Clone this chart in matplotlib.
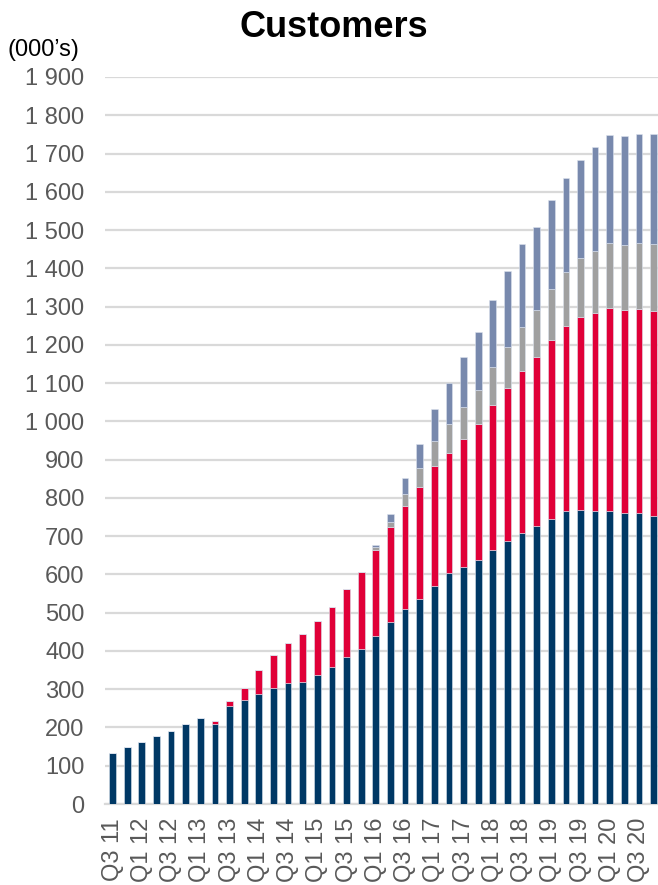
import numpy as np
import matplotlib
matplotlib.use("Agg")
import matplotlib.pyplot as plt
from matplotlib.ticker import FuncFormatter

plt.rcParams['font.family'] = ['Liberation Sans', 'DejaVu Sans']

# quarters Q3 11 .. Q4 20
quarters = ["Q3 11", "Q4 11",
            "Q1 12", "Q2 12", "Q3 12", "Q4 12",
            "Q1 13", "Q2 13", "Q3 13", "Q4 13",
            "Q1 14", "Q2 14", "Q3 14", "Q4 14",
            "Q1 15", "Q2 15", "Q3 15", "Q4 15",
            "Q1 16", "Q2 16", "Q3 16", "Q4 16",
            "Q1 17", "Q2 17", "Q3 17", "Q4 17",
            "Q1 18", "Q2 18", "Q3 18", "Q4 18",
            "Q1 19", "Q2 19", "Q3 19", "Q4 19",
            "Q1 20", "Q2 20", "Q3 20", "Q4 20"]

# customers (000's) per segment
seg_navy = [134, 149, 163, 178, 191, 209, 225, 209, 255, 273,
            287, 302, 315, 320, 336, 359, 383, 406, 440, 477,
            509, 535, 571, 603, 620, 639, 665, 688, 709, 726,
            746, 765, 769, 765, 766, 760, 760, 754]
seg_red = [0, 0, 0, 0, 0, 0, 0, 9, 14, 29,
           64, 88, 106, 125, 142, 157, 180, 200, 225, 248,
           271, 294, 313, 315, 334, 354, 378, 400, 423, 442,
           467, 485, 504, 519, 531, 532, 534, 535]
seg_grey = [0, 0, 0, 0, 0, 0, 0, 0, 0, 0,
            0, 0, 0, 0, 0, 0, 0, 0, 6, 12,
            30, 49, 65, 75, 83, 90, 98, 106, 115, 124,
            132, 140, 154, 161, 168, 170, 171, 174]
seg_slate = [0, 0, 0, 0, 0, 0, 0, 0, 0, 0,
             0, 0, 0, 0, 0, 0, 0, 0, 6, 20,
             41, 63, 84, 108, 130, 150, 175, 199, 216, 216,
             233, 245, 256, 271, 283, 285, 287, 289]

colors = ["#003865", "#E00038", "#A0A0A0", "#7889AD"]

fig = plt.figure(figsize=(6.58, 8.85), dpi=100)
ax = fig.add_axes([0.16, 0.0915, 0.84, 0.8215])

x = np.arange(len(quarters))
bottom = np.zeros(len(quarters))
for vals, c in zip([seg_navy, seg_red, seg_grey, seg_slate], colors):
    ax.bar(x, vals, width=0.46, bottom=bottom, color=c,
           edgecolor="#DCE3EE", linewidth=0.4, zorder=3)
    bottom += np.array(vals)

ax.set_ylim(0, 1900)
ax.set_yticks(np.arange(0, 2000, 100))
ax.yaxis.set_major_formatter(FuncFormatter(lambda v, p: f"{int(v):,}".replace(",", " ")))
ax.set_xlim(-0.5, len(quarters) - 0.7)
ax.set_xticks(x[::2])
ax.set_xticklabels(quarters[::2], rotation=90)

ax.grid(axis="y", color="#D9D9D9", linewidth=1.6, zorder=0)
for s in ["top", "right", "left"]:
    ax.spines[s].set_visible(False)
ax.spines["bottom"].set_color("#D9D9D9")
ax.spines["bottom"].set_linewidth(1.6)
ax.tick_params(axis="both", length=0, labelsize=17, colors="#595959")
ax.tick_params(axis="y", pad=15)
ax.tick_params(axis="x", pad=10)

fig.text(0.508, 0.969, "Customers", ha="center", va="center",
         fontsize=26, fontweight="bold")
fig.text(0.012, 0.943, "(000\u2019s)", ha="left", va="center", fontsize=17)

fig.savefig("out.png", dpi=100)
